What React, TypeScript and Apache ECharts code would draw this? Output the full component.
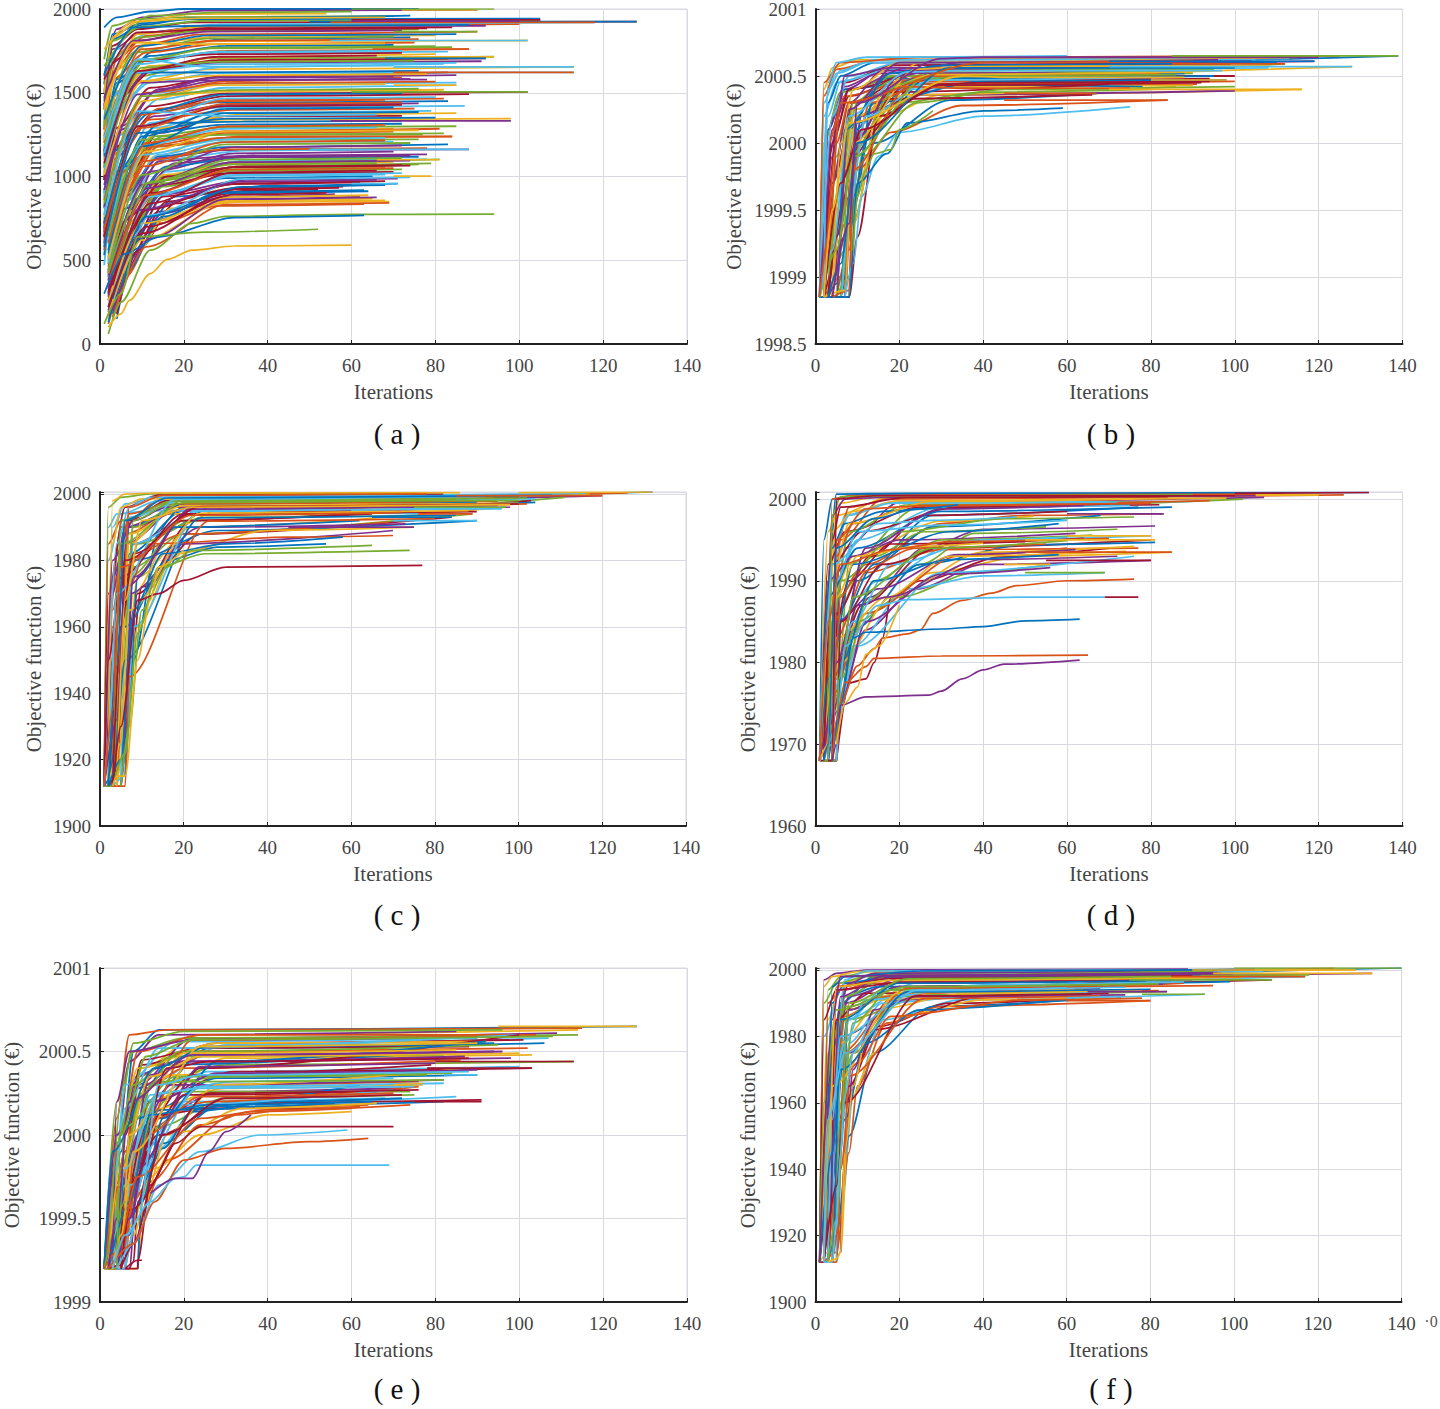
import React, { useEffect, useRef } from "react";
import * as echarts from "echarts";

const palette = ["#0072BD", "#D95319", "#EDB120", "#7E2F8E", "#77AC30", "#4DBEEE", "#A2142F"];
const captions = ["( a )", "( b )", "( c )", "( d )", "( e )", "( f )"];
const captionX = [397, 1111, 397, 1111, 397, 1111];
const captionY = [434, 434, 915, 915, 1389, 1389];

// Each curve is a flat list: iteration, value, iteration, value, ...
const curvesA: number[][] = [
[1,1890,4,1950,12,1985,20,2000,76,2000],[3,520,7,1020,13,1180,30,1232,84,1238],[1,1250,4,1640,12,1800,30,1838,80,1842],[2,200,6,520,14,790,30,860,62,880],
[1,900,4,1380,10,1600,25,1705,94,1715],[2,380,7,830,16,1030,35,1095,78,1102],[1,1400,3,1780,9,1880,22,1920,128,1925],[4,150,9,620,18,880,40,945,71,958],
[1,1050,3,1480,11,1690,30,1750,88,1760],[2,300,5,700,13,1120,30,1270,70,1285],[1,1600,4,1880,10,1950,25,1990,90,1995],[3,260,8,690,15,940,32,1035,72,1042],
[1,700,5,1250,14,1460,30,1530,85,1545],[2,420,6,960,14,1260,30,1360,72,1362],[1,1150,4,1560,13,1750,30,1822,74,1830],[2,120,6,400,14,720,28,825,63,835],
[1,850,3,1330,10,1570,26,1640,113,1655],[3,340,8,860,18,1080,35,1125,78,1132],[1,1700,3,1900,9,1940,20,1952,70,1958],[2,560,5,1030,12,1320,28,1412,87,1422],
[1,640,4,1170,14,1400,30,1480,88,1492],[2,220,7,640,15,900,30,990,65,1002],[1,1320,4,1700,11,1840,28,1895,100,1910],[3,610,7,1100,15,1290,30,1340,98,1345],
[1,980,4,1460,12,1640,28,1680,91,1688],[2,280,6,700,15,1000,32,1085,81,1102],[1,470,4,1010,13,1290,28,1380,79,1392],[4,180,9,560,18,840,35,915,52,925],
[1,1500,3,1820,10,1905,22,1945,74,1960],[2,760,5,1210,12,1480,30,1570,72,1590],[1,580,5,1060,15,1290,32,1368,85,1378],[2,330,7,760,15,1040,32,1138,70,1148],
[1,1100,4,1500,11,1700,26,1765,84,1772],[3,240,7,590,16,900,32,1005,68,1012],[1,720,4,1290,12,1530,30,1600,83,1622],[2,440,6,900,14,1120,30,1175,83,1192],
[1,1200,3,1620,9,1780,24,1848,90,1865],[3,160,8,520,17,810,35,850,69,850],[1,810,5,1280,14,1520,28,1592,85,1605],[2,510,6,990,14,1180,30,1220,76,1222],
[1,1350,4,1760,12,1860,28,1908,118,1920],[2,260,6,650,15,950,30,1018,70,1028],[1,530,4,1030,12,1260,30,1310,72,1315],[3,360,8,780,16,1000,32,1055,68,1058],
[1,1000,3,1420,11,1640,28,1712,80,1730],[2,190,6,480,15,780,30,880,56,895],[1,1450,3,1810,10,1895,25,1930,105,1935],[3,450,6,860,14,1130,30,1208,70,1208],
[1,670,4,1180,12,1420,30,1496,102,1505],[2,350,6,810,16,1060,34,1115,76,1118],[1,1150,3,1580,11,1740,28,1790,75,1800],[2,150,6,430,15,740,30,855,65,868],
[1,600,3,1100,13,1360,30,1428,76,1436],[2,480,6,1000,13,1240,30,1295,85,1300],[1,900,4,1410,13,1600,30,1655,82,1672],[3,210,7,560,15,880,34,960,68,972],
[1,1550,3,1850,10,1915,22,1940,105,1942],[2,680,5,1150,14,1405,30,1458,82,1465],[1,1030,4,1510,12,1660,30,1695,83,1700],[2,400,6,880,14,1110,30,1158,88,1162],
[3,310,8,740,16,980,34,1062,79,1078],[1,770,4,1240,13,1500,30,1555,85,1560],[1,1280,3,1680,9,1810,25,1885,84,1890],[2,130,6,420,15,760,28,900,64,912],
[1,640,3,1130,12,1340,32,1398,75,1405],[3,290,7,720,15,1010,32,1075,70,1088],[1,1420,3,1760,10,1860,26,1898,92,1900],[2,520,6,1040,15,1240,30,1250,77,1250],
[1,870,3,1370,12,1560,28,1618,113,1622],[2,170,7,520,16,850,32,930,58,940],[1,1130,4,1580,12,1720,30,1780,70,1785],[2,460,6,920,13,1190,30,1260,70,1268],
[1,740,5,1260,12,1480,32,1508,82,1518],[3,230,7,600,14,890,35,980,71,988],[1,1300,3,1700,9,1830,24,1870,76,1878],[2,390,6,850,15,1100,35,1155,66,1162],
[1,980,4,1460,13,1640,28,1695,92,1705],[2,610,6,1060,14,1320,34,1328,72,1332],[1,560,4,1010,14,1210,30,1270,81,1285],[1,1220,3,1640,11,1790,30,1808,102,1812],
[1,820,5,1300,14,1520,30,1578,78,1578],[3,270,7,660,15,960,30,1042,76,1072],[1,1050,3,1480,10,1700,28,1738,83,1745],[2,300,6,740,16,1000,34,1060,72,1068],
[1,690,3,1150,12,1380,28,1442,83,1450],[2,430,5,880,14,1180,34,1240,84,1240],[1,1500,3,1830,9,1925,22,1970,54,1972],[3,340,7,800,14,1090,30,1120,70,1125],
[1,1660,12,1960,28,1980,60,1985],[2,550,9,1180,30,1285,66,1292],[1,980,9,1690,28,1730,72,1738],[3,180,12,730,30,908,63,918],[2,700,10,1370,30,1450,68,1458],[1,1420,9,1850,26,1898,85,1905],[2,330,11,930,32,1085,74,1095],
[1,1300,8,1740,26,1825,70,1835],[2,620,9,1300,30,1466,80,1474],[3,250,11,800,32,955,62,965],[1,1120,9,1620,28,1622,76,1630],[2,480,10,1060,30,1205,68,1215],[1,1760,8,1925,24,1945,68,1950],[2,410,12,1030,32,1175,72,1185],
[1,1060,10,1650,28,1685,75,1692],[3,300,12,880,32,1010,72,1020],[1,1580,9,1860,26,1878,78,1885],[2,560,10,1240,30,1404,70,1412],[1,860,11,1500,30,1558,80,1566],[2,260,10,720,32,878,64,888],[1,1470,8,1810,26,1865,72,1872],
[2,640,10,1220,30,1250,82,1258],[1,1020,8,1620,28,1670,85,1678],[3,220,10,660,32,922,57,932],[1,1340,10,1780,26,1842,85,1850],[2,500,9,1090,30,1162,78,1170],[1,760,10,1450,28,1545,68,1552],[2,380,10,950,32,1115,74,1125],
[1,1180,9,1690,28,1770,80,1778],[3,240,12,770,34,985,74,995],[1,640,9,1300,30,1420,72,1428],[2,540,10,1180,30,1378,76,1385],[1,1240,10,1760,28,1812,76,1820],[2,180,10,620,30,848,68,858],[1,920,9,1490,28,1590,70,1597],
[2,420,11,960,32,1072,66,1080],[1,1140,9,1670,28,1745,72,1752],[3,350,12,900,32,1056,74,1065],[1,720,10,1380,30,1490,72,1498],[2,600,11,1200,30,1300,68,1308],[1,1400,8,1800,24,1790,68,1795],[2,290,9,800,34,970,66,980],
[1,840,10,1480,30,1516,76,1524],[2,480,10,1130,30,1222,68,1230],[1,1080,9,1630,28,1715,66,1722],[3,270,11,760,34,938,68,948],[1,690,10,1290,30,1434,72,1442],[2,510,11,1150,30,1268,76,1276],[1,950,9,1560,28,1575,74,1582],
[3,410,12,970,32,1102,72,1110],[1,1230,9,1700,26,1655,70,1662],[2,220,11,700,32,892,54,902],[1,580,9,1260,30,1345,80,1352],[2,360,11,890,32,1042,70,1050],[1,1010,10,1570,28,1604,78,1612],[3,200,12,630,30,865,66,875],
[2,440,10,1010,30,1192,74,1200],[1,770,9,1390,30,1362,66,1370],[2,310,12,840,32,1025,66,1035],[1,1610,8,1890,24,1900,88,1905],[3,160,11,580,30,832,69,842],
];
const outliersA: number[][] = [
[50,1925,128,1925],[55,1920,118,1920],[60,1935,105,1935],[60,1928,100,1928],[55,1812,102,1812],[70,1655,113,1655],[70,1622,113,1622],[60,1505,102,1505],[55,1332,98,1332],
[50,1162,88,1162],[72,1995,90,1995],[60,2000,94,2000],[70,1865,90,1865],[65,1760,88,1760],[72,1715,94,1715],[68,1705,92,1705],[70,1545,85,1545],[66,1100,81,1100],[70,1002,79,1002],[60,958,71,958],
[2,60,5,250,12,560,22,720,30,762,60,774,94,775],[1,300,6,540,14,640,32,755,63,768],[1,120,5,300,9,640,25,668,52,685],[2,100,5,180,7,260,12,420,16,505,22,560,32,585,60,590],
];
const outlierColorsA: number[] = [0,1,6,3,5,5,1,4,3,5,2,4,4,1,2,0,2,2,2,5,4,0,4,2];

const curvesB: number[][] = [
[1,1998.85,6,1998.85,9,1999.5,13,2000.1,30,2000.58,139,2000.65],[1,1998.85,2,2000.35,5,2000.55,15,2000.62,125,2000.65],[2,1998.85,5,1999.5,10,2000.2,28,2000.5,128,2000.57],
[1,1998.85,3,1999.9,7,2000.4,18,2000.58,119,2000.61],[3,1998.85,7,1999.2,10,2000.05,25,2000.5,112,2000.59],[1,1998.85,2,2000.2,5,2000.45,16,2000.54,108,2000.56],
[2,1998.85,4,2000,8,2000.35,22,2000.5,100,2000.5],[1,1998.85,3,2000.1,7,2000.4,20,2000.44,98,2000.47],[4,1998.85,7,1999.4,11,2000.1,28,2000.42,91,2000.44],
[2,1998.85,8,1998.85,10,1999.7,16,2000.2,30,2000.36,116,2000.4],[1,1998.85,4,1999.7,9,2000.2,26,2000.36,100,2000.39],[1,1998.85,2,2000,6,2000.38,20,2000.5,90,2000.52],
[3,1998.85,6,1999.4,9,2000.1,20,2000.4,84,2000.54],[2,1998.85,4,2000.1,7,2000.45,18,2000.58,102,2000.6],[1,1998.85,3,2000.3,6,2000.5,14,2000.6,110,2000.63],
[2,1998.85,6,1999,10,2000.2,25,2000.54,96,2000.57],[1,1998.85,2,2000.4,4,2000.56,10,2000.62,93,2000.64],[4,1998.85,8,1999.6,11,2000.2,24,2000.47,86,2000.5],
[3,1998.85,5,1999.9,8,2000.3,22,2000.52,95,2000.55],[1,1998.85,3,2000.2,6,2000.46,18,2000.55,104,2000.58],[2,1998.85,5,1999.8,9,2000.3,20,2000.46,80,2000.48],
[3,1998.85,8,1998.85,9,1999.4,14,2000,32,2000.32,67,2000.37],[5,1998.85,8,1999.2,10,1999.8,18,2000.08,35,2000.28,84,2000.32],
[2,1998.85,5,1999.6,9,2000.25,25,2000.42,90,2000.43],[1,1998.85,4,2000.1,8,2000.4,22,2000.56,97,2000.58],
[3,1998.85,6,1999.8,10,2000.3,30,2000.55,98,2000.6],[1,1998.85,2,2000.3,5,2000.52,14,2000.62,113,2000.63],[2,1998.85,7,1999.3,10,2000,25,2000.46,94,2000.48],
[4,1998.85,6,1999.5,8,2000.1,16,2000.48,88,2000.52],[1,1998.85,3,2000,7,2000.35,22,2000.46,83,2000.46],[5,1998.85,7,1999.7,10,2000.2,25,2000.6,115,2000.64],
[2,1998.85,3,2000.1,7,2000.42,15,2000.52,87,2000.53],[3,1998.85,6,1999.7,9,2000.3,18,2000.5,92,2000.55],[1,1998.85,4,2000.2,8,2000.5,20,2000.6,105,2000.62],
[2,1998.85,5,2000.1,8,2000.4,30,2000.58,99,2000.59],[6,1998.85,8,1999.5,10,2000.15,24,2000.44,78,2000.42],[1,1998.85,2,2000.45,6,2000.6,25,2000.64,110,2000.65],
[4,1998.85,7,1999.8,9,2000.2,22,2000.36,86,2000.42],[2,1998.85,4,1999.7,8,2000.3,16,2000.54,100,2000.6],[5,1998.85,8,1999,10,1999.9,20,2000.3,40,2000.38,80,2000.4],
[1,1998.85,3,2000.4,6,2000.54,12,2000.6,101,2000.62],[3,1998.85,7,1999.6,9,2000,18,2000.38,70,2000.44],[7,1998.85,8,1999.3,10,2000.1,14,2000.3,40,2000.46,88,2000.47],
[2,1998.85,5,2000,8,2000.3,26,2000.5,82,2000.52],[4,1998.85,6,2000,9,2000.4,20,2000.6,94,2000.62],[1,1998.85,4,1999.9,7,2000.5,18,2000.56,76,2000.56],
[6,1998.85,9,1999.4,11,1999.9,24,2000.3,45,2000.4,100,2000.42],[2,1998.85,3,2000.45,5,2000.6,12,2000.64,60,2000.65],[3,1998.85,5,1999.3,9,1999.9,18,2000.33,66,2000.36],
[1,1998.85,8,1998.85,9,1999.6,14,2000.35,24,2000.48,95,2000.5],[3,1998.85,7,1998.85,8,1999.7,13,2000.3,26,2000.44,100,2000.46],[2,1998.85,8,1998.85,9,1999.4,16,2000.4,28,2000.51,90,2000.53],
[4,1998.85,7,1998.85,9,2000,20,2000.5,34,2000.6,96,2000.62],[1,1998.85,6,1998.85,8,1999.9,20,2000.44,32,2000.54,85,2000.56],[2,1998.85,6,1998.85,8,1999.5,12,2000.2,28,2000.47,80,2000.49],
[3,1998.85,8,1998.85,10,1999.3,15,2000.2,30,2000.43,92,2000.45],[1,1998.85,5,1998.85,7,2000.1,18,2000.52,30,2000.58,110,2000.6],[4,1998.85,8,1998.9,9,1999.8,22,2000.42,34,2000.41,75,2000.41],
[2,1998.85,7,1998.9,9,2000,24,2000.55,36,2000.57,108,2000.58],[3,1998.85,5,1998.95,8,2000.25,20,2000.6,30,2000.6,104,2000.61],[1,1998.85,5,1999.2,9,1999.9,26,2000.48,38,2000.5,86,2000.51],
[1,1998.85,4,1999.2,8,2000.2,22,2000.53,34,2000.54,97,2000.54],[2,1998.85,6,1999.7,11,2000.1,30,2000.44,40,2000.45,94,2000.46],[3,1998.85,6,1999.1,10,2000,32,2000.56,42,2000.56,100,2000.56],
[1,1998.85,3,1999.3,6,2000.3,40,2000.6,50,2000.6,90,2000.61],[2,1998.85,4,1999.5,8,2000.15,35,2000.5,45,2000.49,88,2000.49],[4,1998.85,8,1999.4,10,2000.3,30,2000.63,40,2000.64,120,2000.64],
];
const outliersB: number[][] = [
[85,2000.65,139,2000.65],[70,2000.57,128,2000.57],[70,2000.4,116,2000.4],[45,2000.32,84,2000.32],[45,2000.37,67,2000.37],[70,2000.61,119,2000.61],[85,2000.59,112,2000.59],[80,2000.47,98,2000.47],
[7,1998.85,9,1999.1,11,1999.6,15,1999.9,20,2000.08,40,2000.2,75,2000.27],[5,1998.85,8,1998.85,10,1999.7,17,1999.92,22,2000.15,40,2000.24,59,2000.26],[9,1999.2,10,1999.6,12,1999.8,14,1999.92,18,1999.95,20,2000.1,28,2000.24],
];
const outlierColorsB: number[] = [4,5,2,1,1,0,1,2,5,0,4];

const curvesC: number[][] = [
[2,1912,5,1915,8,1950,14,1988,30,1998,132,2000.6],[1,1912,2,1960,5,1990,14,1998,126,2000.3],[3,1912,5,1930,8,1970,18,1990,30,1996,117,2000],
[1,1912,3,1950,6,1985,20,1997,120,1999.5],[2,1912,4,1930,7,1975,20,1992,111,1999],[1,1912,2,1980,5,1994,14,1998,104,1998.5],
[3,1912,5,1925,9,1970,22,1992,103,1998],[1,1912,4,1940,7,1982,20,1995,104,1997.5],[2,1912,3,1965,6,1988,18,1995,102,1997],
[4,1912,6,1940,9,1975,22,1990,97,1996],[1,1912,3,1970,6,1990,16,1994,76,1995.5],[2,1912,5,1945,8,1978,20,1988,89,1994],
[1,1912,2,1990,4,1994,12,1995,76,1994],[3,1912,6,1930,10,1972,24,1988,84,1993],[2,1912,4,1955,8,1980,28,1989,90,1992],
[1,1912,3,1960,6,1980,20,1988,69,1991.5],[4,1912,6,1925,9,1960,18,1982,40,1989,75,1990],[3,1912,5,1938,9,1968,20,1985,70,1989],
[1,1912,2,1996,5,1999,12,2000,76,2000.2],[2,1912,3,1990,6,1997,15,1999.5,110,2000],
[1,1912,4,1960,7,1992,16,1998,100,1999],[2,1912,5,1950,7,1990,20,1997,88,1998],[1,1912,2,1985,5,1992,18,1997,95,1997.8],
[3,1912,5,1950,7,1985,16,1994,92,1996.5],[1,1912,3,1975,7,1990,22,1996,98,1996],[4,1912,6,1950,8,1990,20,1998,107,1999.8],
[2,1912,4,1970,7,1993,22,1999,116,2000.2],[1,1912,2,1970,6,1996,14,1999.7,82,2000],[5,1912,6,1935,8,1980,20,1996,90,1997.5],
[3,1912,4,1975,7,1994,18,1998,94,1999],[1,1912,3,1985,5,1996,10,1998.5,72,1999],[2,1912,3,1940,7,1970,24,1990,73,1991],
[4,1912,6,1965,9,1985,25,1993,80,1993.5],[1,1912,4,1985,7,1996,12,1999,66,1999.5],[2,1912,5,1960,8,1985,20,1992,65,1994],
[6,1915,7,1940,9,1975,18,1990,62,1992],[3,1912,4,1945,6,1970,12,1985,45,1987,70,1987.5],[2,1912,3,1998,6,2000,14,2000.3,86,2000.4],
[1,1912,3,1980,8,1992,16,1996,84,1997],[3,1912,6,1960,8,1992,18,1998,100,1998],[5,1915,6,1950,8,1985,24,1995,96,1995.5],
[1,1912,2,1950,5,1975,20,1994,60,1995],[2,1912,4,1925,6,1960,16,1980,28,1984,54,1985],[4,1912,5,1955,7,1996,15,1999.6,78,2000],
[1,1912,4,1912,7,1988,20,1996.5,100,1997.2],[2,1912,5,1912,8,1975,22,1995.8,95,1996.6],[1,1912,3,1912,5,1992,18,1998,102,1998.8],[3,1912,6,1915,8,1960,24,1995,96,1995.8],[2,1912,4,1915,6,1980,22,1994,90,1994.7],
[1,1912,3,1915,6,1950,24,1992.8,85,1993.6],[3,1912,6,1912,7,1945,26,1991.8,80,1992.6],[2,1912,5,1925,7,1965,24,1994.2,88,1995],[1,1912,4,1932,6,1972,22,1995.4,76,1996.2],[2,1912,3,1915,5,1985,20,1997.4,85,1998.2],
[1,1912,2,1925,4,1970,18,1998.4,92,1999.3],[3,1912,5,1960,8,1982,24,1996.2,100,1997],[2,1912,4,1948,6,1992,16,1998.8,108,1999.6],[1,1912,3,1935,5,1978,22,1993.6,72,1994.4],[4,1912,6,1968,10,1992,22,1996,98,1996.8],
];
const outliersC: number[][] = [
[100,2000.4,132,2000.6],[76,1994,89,1994],[70,1992,90,1992],[65,1993,84,1993],[45,1990,75,1990],[75,1996,97,1996],[85,1999.5,120,1999.5],
[2,1912,5,1920,8,1965,15,1982,30,1985,58,1987],[5,1912,7,1930,10,1965,16,1978,22,1983,65,1984.5],[3,1912,6,1922,9,1958,14,1978,25,1982,74,1983],[3,1912,5,1930,9,1968,14,1970,20,1974,30,1978,77,1978.5],[3,1912,4,1915,6,1915,9,1950,12,1968,14,1978,20,1983],
];
const outlierColorsC: number[] = [2,1,5,0,3,4,1,0,4,4,6,2];

const curvesD: number[][] = [
[1,1968,3,1990,5,2000.6,20,2000.7,132,2000.8],[2,1968,4,1975,6,1995,16,2000,126,2000.5],[1,1968,3,1985,5,1998,18,2000.3,120,2000.5],
[1,1968,4,1980,7,1994,20,1999.6,107,2000.2],[3,1968,5,1975,8,1992,24,1998.8,102,2000],[2,1968,4,1990,7,1998,18,1999.6,90,1999.7],
[1,1968,3,1992,7,1996,25,1999,82,1999.3],[3,1968,5,1978,10,1990,28,1998,77,1999],[2,1968,4,1985,12,1992,30,1997,50,1998,83,1998.2],
[1,1968,4,1988,9,1993,30,1997.3,52,1997.9],[4,1968,5,1980,13,1988,26,1994,40,1996.3,81,1996.7],[3,1968,5,1976,10,1987,25,1992,38,1995.8,72,1996.3],
[2,1968,5,1985,15,1990,35,1995,80,1995.5],[1,1968,4,1978,11,1987,28,1994,80,1995],[3,1968,5,1972,9,1984,25,1992,50,1994.4,81,1994.7],
[4,1968,5,1983,12,1991,30,1993.8,77,1994],[2,1968,5,1975,12,1986,28,1991,50,1993,85,1993.5],[3,1968,5,1974,12,1984,24,1989,40,1992,80,1992.5],
[1,1968,5,1978,10,1985,20,1988,38,1991,56,1992],[2,1968,5,1972,9,1982,22,1989,40,1990.6,69,1991],
[5,1968,8,1977.5,12,1978,14,1980,16,1983,18,1988,25,1990,45,1993,70,1994],[1,1968,2,1995,4,2000,10,2000.5,112,2000.7],[3,1968,5,1994,8,1999,20,2000.2,96,2000.5],
[1,1968,3,1996,6,1999.5,14,2000.2,88,2000.3],[2,1968,4,1998,7,2000,16,2000.2,105,2000.4],[1,1968,4,1985,8,1996,22,1999.3,78,1999.6],
[4,1968,5,1990,10,1995,30,1999,75,1999.2],[2,1968,4,1992,11,1996,34,1999,70,1999.4],[3,1968,6,1985,14,1992,28,1996.6,68,1998],
[1,1968,3,1975,12,1986,34,1993,60,1994],[5,1968,6,1980,18,1988,40,1993.5,76,1994.2],[3,1968,5,1985,15,1989,34,1993.2,62,1993.8],
[2,1968,5,1988,14,1993,26,1996,55,1996.6],[1,1968,4,1970,10,1982,30,1991,76,1993],[4,1968,5,1986,13,1993,26,1998,60,1998.5],
[1,1968,3,1988,10,1994,30,1998.5,85,1999],[3,1968,5,1993,9,1997,24,1999.2,94,1999.8],[2,1968,4,1996,9,1998.5,20,1999.8,98,2000.1],
[1,1968,3,1990,9,1993,20,1995,62,1995.8],[5,1968,6,1978,14,1990,30,1995,66,1995.6],[4,1968,5,1995,8,1998,18,1999.5,72,1999.6],
[2,1968,3,1980,8,1990,18,1994.5,50,1994.8],[1,1968,4,1994,7,1997,16,1998.5,30,1999],[3,1968,4,2000,8,2000.4,30,2000.5,110,2000.6],
[2,1968,5,1983,17,1988,32,1993,74,1993.6],[1,1968,3,1972,10,1987,17,1988,40,1992.6,72,1993],[5,1968,6,1990,20,1996,45,1997.6,76,1997.8],
[3,1968,4,1976,9,1985,18,1992,40,1995,60,1995.3],[2,1968,4,1995,6,1999,22,2000.2,84,2000.3],[1,1968,3,1978,9,1992,32,1996,58,1997],
[4,1968,6,1988,10,1991,24,1994,55,1994.5],[1,1968,4,1990,8,1997,28,1999.7,76,2000],[2,1968,5,1980,12,1994,30,1998.8,64,1999.2],
[1,1968,3,1968,4,1998,6,2000.3,24,2000.4,90,2000.5],[2,1968,4,1968,5,1990,10,1996,30,1996.8,60,1997.4],[1,1968,5,1968,6,1985,16,1992,34,1994.6,64,1995.2],[3,1968,5,1968,6,1980,14,1990,32,1992.6,58,1993.2],
[2,1968,4,1968,5,1995,12,1998.8,26,1999.2,80,1999.5],[1,1968,3,1970,5,1988,10,1993,24,1994.2,40,1994.6],[4,1968,5,1968,6,1975,12,1985,30,1990.8,56,1991.6],[2,1968,5,1968,5.5,1978,9,1988,28,1994,60,1994.9],
[1,1968,2,1980,4,1992,15,1997,28,1997.4,48,1997.8],[3,1968,4,1968,5,2000,14,2000.4,30,2000.4,100,2000.4],[2,1968,3,1970,5,1994,14,1997.6,24,1998.8,34,1999.3],[1,1968,3,1985,6,1992,18,1993.8,32,1994.8,70,1995.2],
];
const outliersD: number[][] = [
[100,2000.7,132,2000.8],[105,2000.5,120,2000.5],[60,1998.2,83,1998.2],[55,1992.5,80,1992.5],[50,1993.5,85,1993.5],[50,1995,81,1995],[60,1995.5,80,1995.5],[75,1998.2,83,1998.2],[50,1991,69,1991],[45,1992,56,1992],
[5,1968,6,1975,10,1979.6,14,1981.7,16,1983,22,1983.5,25,1984,28,1986,35,1987.6,42,1988.5,48,1989.4,60,1990,76,1990.2],
[5,1968,7,1982,15,1987,22,1987.7,50,1988,69,1988],[69,1988,77,1988],[4,1968,6,1975,9,1983,12,1983.7,30,1984.1,40,1984.4,50,1985.1,63,1985.3],
[4,1968,5,1973,7,1977.5,12,1979.5,14,1980.5,30,1980.8,65,1980.9],[4,1968,5,1970,6,1974.8,12,1975.8,27,1976,30,1976.5,35,1978,40,1979.1,45,1979.8,63,1980.3],[5,1970,7,1975,10,1977,12,1981,15,1982,20,1987],
];
const outlierColorsD: number[] = [6,2,3,6,1,2,2,3,4,2,1,5,6,0,1,3,2];

const curvesE: number[][] = [
[2,1999.2,5,1999.9,8,2000.5,14,2000.63,128,2000.65],[1,1999.2,4,2000.1,7,2000.6,16,2000.63,115,2000.64],[3,1999.2,6,1999.8,10,2000.4,24,2000.6,114,2000.63],
[2,1999.2,5,1999.6,9,2000.3,22,2000.58,109,2000.61],[1,1999.2,4,2000.2,8,2000.5,20,2000.58,114,2000.6],[3,1999.2,7,1999.6,11,2000.3,30,2000.54,107,2000.58],
[2,1999.2,6,1999.9,10,2000.42,28,2000.55,101,2000.57],[4,1999.2,7,1999.4,11,2000.2,26,2000.52,106,2000.55],[1,1999.2,5,1999.7,9,2000.35,20,2000.5,102,2000.52],
[3,1999.2,6,1999.5,12,2000.2,30,2000.46,103,2000.48],[2,1999.2,5,2000,9,2000.36,18,2000.44,98,2000.46],[4,1999.2,8,1999.7,12,2000.3,30,2000.42,113,2000.44],
[1,1999.2,5,1999.6,10,2000.2,26,2000.38,100,2000.41],[3,1999.2,6,1999.8,12,2000.2,32,2000.38,103,2000.4],[2,1999.2,7,1999.5,13,2000.15,28,2000.34,90,2000.36],
[4,1999.2,8,1999.6,13,2000.05,25,2000.3,76,2000.32],[2,1999.2,6,1999.7,12,2000.15,30,2000.28,77,2000.3],[1,1999.2,6,1999.55,14,2000.1,28,2000.26,72,2000.28],
[3,1999.2,7,1999.55,14,2000.05,30,2000.22,75,2000.24],[5,1999.2,8,1999.5,13,1999.9,24,2000.18,85,2000.23],[2,1999.2,6,1999.7,14,2000,30,2000.19,91,2000.21],
[4,1999.2,7,1999.5,15,1999.95,28,2000.17,82,2000.2],[6,1999.2,9,1999.5,16,1999.85,32,2000.12,50,2000.17,64,2000.18],[3,1999.2,7,1999.45,13,1999.8,24,2000,40,2000.12,60,2000.14],
[1,1999.2,4,1999.9,7,2000.44,14,2000.6,85,2000.62],[2,1999.2,5,2000.2,8,2000.55,20,2000.62,96,2000.63],
[1,1999.2,3,1999.6,6,2000.3,18,2000.56,90,2000.58],[4,1999.2,6,2000,10,2000.45,24,2000.52,88,2000.53],[3,1999.2,5,1999.6,9,2000.2,16,2000.42,84,2000.5],
[2,1999.2,6,1999.9,11,2000.28,20,2000.4,86,2000.45],[5,1999.2,7,1999.9,10,2000.3,18,2000.36,80,2000.38],[1,1999.2,4,1999.5,9,2000,17,2000.3,82,2000.33],
[3,1999.2,6,1999.7,11,2000.1,18,2000.26,74,2000.26],[2,1999.2,5,1999.4,10,1999.9,20,2000.2,68,2000.22],[4,1999.2,7,1999.7,14,2000.12,26,2000.16,60,2000.16],
[6,1999.2,7,1999.5,11,1999.85,18,2000.15,56,2000.19],[1,1999.2,5,2000,9,2000.5,24,2000.6,104,2000.6],[3,1999.2,5,2000.05,9,2000.4,28,2000.55,92,2000.56],
[2,1999.2,7,1999.8,12,2000.36,26,2000.48,94,2000.5],[5,1999.2,8,1999.9,12,2000.3,30,2000.35,78,2000.36],[1,1999.2,6,1999.7,12,2000.24,32,2000.32,70,2000.34],
[3,1999.2,6,1999.6,13,1999.95,20,2000.24,66,2000.26],[4,1999.2,8,1999.55,15,1999.92,22,2000.14,42,2000.2,72,2000.22],[2,1999.2,5,1999.5,12,1999.72,24,2000.06,36,2000.14,74,2000.18],
[5,1999.2,9,1999.2,10,1999.55,16,2000,28,2000.3,88,2000.4],[1,1999.2,4,2000,9,2000.28,20,2000.44,87,2000.47],[3,1999.2,5,1999.8,10,2000.25,19,2000.5,95,2000.54],
[2,1999.2,3,1999.7,6,2000.16,14,2000.52,100,2000.6],[7,1999.2,8,1999.24,9,1999.6,14,2000.1,24,2000.4,100,2000.6],[4,1999.2,6,1999.8,9,2000.1,15,2000.15,62,2000.3],
[1,1999.2,5,1999.75,13,2000.1,26,2000.2,76,2000.29],[6,1999.2,8,1999.4,12,1999.75,20,2000.02,34,2000.16,66,2000.19],[3,1999.2,4,2000.2,7,2000.5,22,2000.57,76,2000.58],
[2,1999.2,4,1999.95,8,2000.3,17,2000.47,82,2000.48],[5,1999.2,7,1999.55,13,1999.95,19,2000.18,70,2000.27],[1,1999.2,5,1999.5,11,2000.06,22,2000.36,79,2000.42],
[9,1999.2,10,1999.6,15,2000.1,28,2000.44,92,2000.56],
[1,1999.2,6,1999.2,8,1999.9,22,2000.57,90,2000.59],[2,1999.2,5,1999.2,7,2000,20,2000.49,85,2000.51],[3,1999.2,7,1999.2,9,1999.8,24,2000.41,80,2000.43],[1,1999.2,4,1999.2,6,2000.05,18,2000.35,84,2000.37],[4,1999.2,6,1999.2,7,1999.7,24,2000.29,82,2000.31],
[2,1999.2,5,1999.22,7,1999.55,26,2000.25,76,2000.27],[1,1999.2,3,1999.9,13,2000.4,26,2000.53,94,2000.55],[3,1999.2,5,1999.3,11,2000,24,2000.23,70,2000.25],[2,1999.2,4,1999.7,12,2000.35,24,2000.47,100,2000.49],[4,1999.2,7,1999.5,13,2000.2,28,2000.37,90,2000.39],
[1,1999.2,6,1999.6,15,2000.32,26,2000.32,82,2000.33],[3,1999.2,6,1999.8,14,2000.25,24,2000.28,75,2000.29],[5,1999.2,8,1999.7,16,2000.4,26,2000.44,88,2000.46],[2,1999.2,7,1999.6,12,2000.12,26,2000.18,65,2000.2],[1,1999.2,4,1999.3,9,1999.75,24,2000.1,40,2000.15,62,2000.17],
[3,1999.2,5,1999.4,8,1999.9,24,2000.53,90,2000.55],[2,1999.2,4,1999.5,7,2000.2,22,2000.48,96,2000.5],[4,1999.2,5,2000,11,2000.47,22,2000.57,108,2000.59],[6,1999.2,9,1999.5,14,2000.3,24,2000.36,88,2000.38],[5,1999.2,8,1999.35,15,2000,30,2000.22,72,2000.24],
];
const outliersE: number[][] = [
[95,2000.65,128,2000.65],[80,2000.44,113,2000.44],[75,2000.2,91,2000.2],[78,2000.4,103,2000.4],[82,2000.36,90,2000.36],[70,2000.3,77,2000.31],
[6,1999.2,9,1999.25,12,1999.7,18,1999.95,24,2000.05,70,2000.05],[4,1999.2,8,1999.35,14,1999.7,24,1999.9,38,2000,59,2000.03],[2,1999.2,8,1999.35,13,1999.6,20,1999.85,30,1999.92,50,1999.96,64,1999.98],
[3,1999.2,6,1999.4,12,1999.6,18,1999.74,20,1999.75,23,1999.82,69,1999.82],[12,1999.65,18,1999.74,22,1999.74,26,1999.9,30,2000.02,36,2000.12],[6,1999.2,9,1999.2,9,1999.25,10,1999.25],
];
const outlierColorsE: number[] = [2,6,6,6,5,2,6,5,1,5,3,6];

const curvesF: number[][] = [
[1,1912,3,1960,6,1990,14,1998,140,2000.6],[2,1912,4,1970,7,1995,18,1999,124,2000.5],[1,1912,3,1985,6,1996,16,1999.5,129,2000],
[3,1912,5,1950,7,1990,20,1997.5,133,1999],[1,1912,2,1990,5,1996,12,1998,118,1998.5],[2,1912,4,1945,7,1985,24,1996,117,1998],
[1,1912,3,1950,6,1980,26,1995,109,1997],[3,1912,5,1960,8,1988,20,1995,99,1996.5],[4,1912,6,1940,9,1975,22,1993,88,1996],
[1,1912,3,1975,7,1988,24,1995,80,1995.5],[3,1912,5,1945,8,1975,18,1991,68,1994.5],[2,1912,4,1960,7,1985,28,1992.5,84,1993.5],
[4,1912,6,1925,9,1962,16,1985,35,1991,93,1992.7],[2,1912,4,1932,8,1965,15,1983,32,1990,73,1992],[3,1912,5,1920,8,1950,14,1975,28,1989,71,1991.8],
[2,1912,5,1915,8,1945,10,1965,17,1984,30,1989,80,1990.8],[5,1912,6,1915,8,1960,14,1975,20,1986,40,1991,72,1991.6],[1,1912,2,1997,5,1999,12,2000,89,2000.3],
[2,1912,3,1994,6,1998,14,1999.7,112,2000.2],[1,1912,2,1980,6,1994,22,1998.6,107,1999.5],[3,1912,5,1970,7,1994,16,1998,97,1999],
[2,1912,4,1990,7,1996,18,1998,92,1998.6],[1,1912,3,1940,6,1975,20,1993,75,1997],[4,1912,6,1960,8,1990,22,1997,102,1997.8],
[1,1912,4,1970,8,1992,20,1996.5,90,1997],[2,1912,4,1950,9,1975,20,1992,64,1994],[5,1915,6,1945,8,1978,16,1990,45,1993,70,1993.5],
[1,1912,3,1930,7,1960,14,1982,40,1992,66,1992.7],[3,1912,4,1980,7,1992,15,1995,72,1996],[2,1912,3,1990,6,1994,14,1996,85,1997.2],
[1,1912,2,1995,4,1998,10,1999.5,85,2000],[3,1912,5,1985,8,1996,14,1999,105,2000.2],[2,1912,5,1955,7,1992,18,1998.5,95,1999.7],
[4,1912,5,1975,7,1997,12,1999.7,76,2000],[1,1912,3,1965,5,1985,12,1993,60,1995],[2,1912,4,1930,7,1955,12,1978,25,1988,62,1991.3],
[3,1912,5,1935,7,1968,10,1972,18,1986,50,1991,78,1991.5],[1,1912,4,1960,6,1978,14,1988,36,1993,62,1994.5],[4,1915,6,1950,8,1988,20,1995,83,1995.7],
[2,1912,3,1975,7,1989,25,1994,70,1995.2],[5,1912,6,1970,8,1985,16,1994,55,1995],[1,1912,2,1985,5,1994,20,1996.3,79,1996.8],
[3,1912,4,1995,7,1998,25,1999.7,100,2000.1],[2,1912,5,1970,7,1986,16,1992,34,1993.5,82,1993.8],[1,1912,3,1955,6,1985,15,1991,44,1993,66,1993.6],
[6,1915,7,1945,9,1970,14,1988,24,1992,74,1992.5],[4,1912,6,1955,9,1984,18,1994,60,1996],[2,1912,4,1965,7,1978,12,1991,40,1995.5,88,1996.4],
[1,1912,3,1912,5,1995,18,1997.5,90,1998.3],[2,1912,4,1912,6,1985,20,1996,85,1996.9],[3,1912,5,1912,7,1975,22,1994.5,95,1995.3],[1,1912,3,1915,4,1965,20,1993.2,78,1994],[2,1912,3,1925,6,1992,16,1998,100,1998.9],
[1,1912,2,1960,5,1988,22,1995,82,1995.8],[3,1912,4,1955,6,1980,24,1994,74,1994.8],[2,1912,5,1935,7,1960,24,1992.2,70,1993],[1,1912,4,1945,6,1970,22,1993.4,80,1994.2],[4,1912,6,1925,8,1968,26,1991.4,68,1992.2],
[2,1912,3,1945,5,1995,18,1996.9,92,1997.7],[1,1912,4,1985,6,1998,16,1998.4,96,1999.2],[3,1912,5,1925,8,1990,22,1997.3,85,1998.1],[2,1912,3,1955,7,1975,24,1993.8,60,1994.6],
];
const outliersF: number[][] = [
[100,2000.6,140,2000.6],[90,2000,129,2000],[95,1999,133,1999],[78,1992.7,93,1992.7],[60,1990.8,80,1990.8],[60,1991.6,73,1992],[65,1993.5,84,1993.5],[75,1997,109,1997],[85,1998,117,1998],
[2,1912,4,1912,5,1925,6,1945,7,1962,9,1975,13,1985],[3,1912,5,1913,6,1915,7,1945,9,1965,11,1975],
];
const outlierColorsF: number[] = [4,2,2,4,1,5,3,4,1,5,2];

const panels = [
  { box: [100, 9, 587, 335], min: 0, max: 2000, step: 500, nameGap: 56, width: 1.8, curves: curvesA, extra: outliersA, colors: outlierColorsA },
  { box: [815.5, 9, 587, 335], min: 1998.5, max: 2001, step: 0.5, nameGap: 71, width: 1.8, curves: curvesB, extra: outliersB, colors: outlierColorsB },
  { box: [100, 492, 586, 334], min: 1900, max: 2000.6, step: 20, nameGap: 56, width: 1.7, curves: curvesC, extra: outliersC, colors: outlierColorsC },
  { box: [815.5, 492, 587, 334], min: 1960, max: 2000.86, step: 10, nameGap: 57, width: 1.7, curves: curvesD, extra: outliersD, colors: outlierColorsD },
  { box: [100, 968, 587, 334], min: 1999, max: 2001, step: 0.5, nameGap: 78, width: 1.8, curves: curvesE, extra: outliersE, colors: outlierColorsE },
  { box: [815.5, 968, 586, 334], min: 1900, max: 2000.6, step: 20, nameGap: 57, width: 1.7, curves: curvesF, extra: outliersF, colors: outlierColorsF },
];
const serif = "'Liberation Serif', serif";

export default function App() {
  const ref = useRef<HTMLDivElement>(null);
  useEffect(() => {
    const chart = echarts.init(ref.current!, null, { renderer: "svg" });
    const grid: any[] = [], xAxis: any[] = [], yAxis: any[] = [], series: any[] = [], graphic: any[] = [];
    const toPoints = (c: number[]) => {
      const data: number[][] = [];
      for (let j = 0; j < c.length; j += 2) data.push([c[j], c[j + 1]]);
      return data;
    };
    panels.forEach((p, i) => {
      const [l, t, w, h] = p.box;
      grid.push({ left: l, top: t, width: w, height: h, show: true, borderColor: "#d9d9e2", borderWidth: 1, backgroundColor: "transparent", outerBoundsMode: "none" });
      xAxis.push({ type: "value", gridIndex: i, min: 0, max: 140, interval: 20, name: "Iterations", nameLocation: "middle", nameGap: 37,
        nameTextStyle: { fontFamily: serif, fontSize: 21, color: "#444" },
        axisLine: { show: true, onZero: false, lineStyle: { color: "#222", width: 2 } }, axisTick: { show: true, inside: true, length: 4, lineStyle: { color: "#222" } },
        axisLabel: { fontFamily: serif, fontSize: 19, color: "#444", margin: 12, showMaxLabel: true, hideOverlap: false }, splitLine: { show: true, lineStyle: { color: "#d9d9e2", width: 1 } } });
      yAxis.push({ type: "value", gridIndex: i, min: p.min, max: p.max, interval: p.step, name: "Objective function (€)", nameLocation: "middle", nameGap: p.nameGap,
        nameTextStyle: { fontFamily: serif, fontSize: 21, color: "#444" },
        axisLine: { show: true, onZero: false, lineStyle: { color: "#222", width: 2 } }, axisTick: { show: true, inside: true, length: 4, lineStyle: { color: "#222" } },
        axisLabel: { fontFamily: serif, fontSize: 19, color: "#444", margin: 9, hideOverlap: false, formatter: (v: number) => (Math.abs(v / p.step - Math.round(v / p.step)) < 1e-6 ? String(v) : "") },
        splitLine: { show: true, lineStyle: { color: "#d9d9e2", width: 1 } } });
      p.curves.forEach((c, k) => {
        series.push({ type: "line", xAxisIndex: i, yAxisIndex: i, data: toPoints(c), showSymbol: false, silent: true, smooth: 0.3, smoothMonotone: "x", lineStyle: { width: p.width, color: palette[k % 7] } });
      });
      p.extra.forEach((c, k) => {
        series.push({ type: "line", xAxisIndex: i, yAxisIndex: i, data: toPoints(c), showSymbol: false, silent: true, smooth: 0.3, smoothMonotone: "x", lineStyle: { width: 1.7, color: palette[p.colors[k]] } });
      });
      graphic.push({ type: "text", x: captionX[i], y: captionY[i], style: { text: captions[i], font: `29px ${serif}`, fill: "#111", textAlign: "center", textVerticalAlign: "middle" } });
    });
    graphic.push({ type: "text", x: 1431, y: 1321, style: { text: "·0", font: `16px ${serif}`, fill: "#555", textAlign: "center", textVerticalAlign: "middle" } });
    chart.setOption({ animation: false, backgroundColor: "#fff", grid, xAxis, yAxis, series, graphic });
    return () => chart.dispose();
  }, []);
  return <div ref={ref} style={{ position: "absolute", left: 0, top: 0, width: 1440, height: 1409 }} />;
}
